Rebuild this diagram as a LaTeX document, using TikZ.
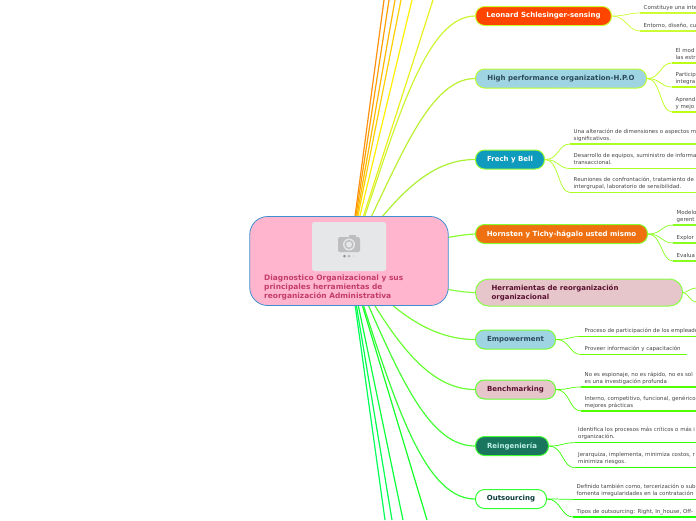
\documentclass[tikz,border=0pt]{standalone}
\usepackage{fontspec}
\usetikzlibrary{calc}
\setmainfont{DejaVu Sans}
\definecolor{rootfill}{HTML}{FFB5CE}
\definecolor{rootline}{HTML}{3F8FD0}
\definecolor{roottext}{HTML}{C43C6C}
\definecolor{lightblue}{HTML}{9FD4E3}
\definecolor{darktext}{HTML}{2A4A5A}
\definecolor{rosefill}{HTML}{E6C6CB}
\definecolor{rosetext}{HTML}{5A1030}
\definecolor{detailtext}{HTML}{444444}
\definecolor{cA}{RGB}{204,255,51}
\definecolor{cB}{RGB}{187,255,20}
\definecolor{cC}{RGB}{170,255,30}
\definecolor{cD}{RGB}{136,255,30}
\definecolor{cE}{RGB}{102,255,0}
\definecolor{cF}{RGB}{80,255,0}
\definecolor{cG}{RGB}{50,255,0}
\definecolor{cH}{RGB}{30,255,0}
\tikzset{
  topic/.style={draw, line width=1pt, rounded corners=9pt, minimum height=19pt, inner sep=0pt, anchor=west, font=\fontsize{7}{9}\selectfont\bfseries},
  detailnode/.style={anchor=base west, inner sep=0pt, align=left, text=detailtext, font=\fontsize{5.45}{7}\selectfont},
  branch/.style={line width=1.2pt},
  twig/.style={line width=.7pt},
  rule/.style={line width=1.2pt},
}
% #1 name, #2 parent, #3 colour, #4 bend x, #5 y of the rule, #6 end x, #7 text
\newcommand{\detail}[7]{%
  \coordinate (#1s) at (#4,#5);
  \coordinate (#1e) at (#6,#5);
  \draw[twig,#3] (#2.east) .. controls ($(#2.east)+(14,0)$) and ($(#1s)+(-12,0)$) .. (#1s);
  \draw[rule,#3] (#1s) -- (#1e);
  \node[detailnode] (#1) at ($(#1s)+(3.5,-4)$) {#7};
}
\begin{document}
\begin{tikzpicture}[x=1pt,y=-1pt]
\useasboundingbox (0,0) rectangle (696,520);
\coordinate (hub) at (349,261);
% straight branches leaving the page
\coordinate (t1) at (384,0); \coordinate (t2) at (389,0); \coordinate (t3) at (395,0);
\coordinate (t4) at (401,0); \coordinate (t5) at (412,0); \coordinate (t6) at (433,0);
\coordinate (b1) at (385,520); \coordinate (b2) at (392,520); \coordinate (b3) at (403,520); \coordinate (b4) at (427,520);
\draw[branch,color={rgb,255:red,255;green,144;blue,16}] (hub) -- (t1);
\draw[branch,color={rgb,255:red,255;green,160;blue,0}] (hub) -- (t2);
\draw[branch,color={rgb,255:red,255;green,184;blue,0}] (hub) -- (t3);
\draw[branch,color={rgb,255:red,255;green,208;blue,0}] (hub) -- (t4);
\draw[branch,color={rgb,255:red,255;green,240;blue,0}] (hub) -- (t5);
\draw[branch,color={rgb,255:red,232;green,240;blue,32}] (hub) -- (t6);
\draw[branch,color={rgb,255:red,0;green,255;blue,90}] (hub) -- (b1);
\draw[branch,color={rgb,255:red,0;green,255;blue,80}] (hub) -- (b2);
\draw[branch,color={rgb,255:red,10;green,255;blue,60}] (hub) -- (b3);
\draw[branch,color={rgb,255:red,20;green,255;blue,40}] (hub) -- (b4);
% topics
\node[topic,fill={rgb,255:red,255;green,69;blue,0},draw={rgb,255:red,204;green,255;blue,51},text=white,minimum width=136pt] (leo) at (475,16) {Leonard Schlesinger-sensing};
\node[topic,fill=lightblue,draw={rgb,255:red,187;green,255;blue,51},text=darktext,minimum width=171pt] (hpo) at (475,78.5) {High performance organization-H.P.O};
\node[topic,fill={rgb,255:red,14;green,155;blue,189},draw={rgb,255:red,153;green,255;blue,51},text=white,minimum width=69pt] (frech) at (475,159.5) {Frech y Bell};
\node[topic,fill={rgb,255:red,238;green,112;blue,16},draw={rgb,255:red,136;green,255;blue,51},text=white,minimum width=172pt] (horn) at (475,234) {Hornsten y Tichy-hágalo usted mismo};
\node[topic,fill=rosefill,draw={rgb,255:red,136;green,255;blue,68},text=rosetext,minimum width=207pt,minimum height=27pt,rounded corners=13pt,align=left,text width=175pt] (herr) at (475,292.5) {Herramientas de reorganización\\organizacional};
\node[topic,fill=lightblue,draw={rgb,255:red,119;green,255;blue,51},text=darktext,minimum width=80pt] (emp) at (475,339.5) {Empowerment};
\node[topic,fill=rosefill,draw={rgb,255:red,102;green,255;blue,51},text=rosetext,minimum width=80pt] (bench) at (475,389.5) {Benchmarking};
\node[topic,fill={rgb,255:red,25;green,117;blue,94},draw={rgb,255:red,68;green,255;blue,51},text={rgb,255:red,190;green,240;blue,230},minimum width=73pt] (rein) at (475,446) {Reingeniería};
\node[topic,fill=white,draw={rgb,255:red,51;green,255;blue,51},text={rgb,255:red,10;green,58;blue,58},minimum width=71pt] (out) at (475,499) {Outsourcing};
% curved branches
\draw[branch,color={rgb,255:red,204;green,245;blue,51}] (hub) .. controls (390,150) and (420,16) .. (leo.west);
\draw[branch,color={rgb,255:red,187;green,240;blue,51}] (hub) .. controls (395,175) and (425,78.5) .. (hpo.west);
\draw[branch,color={rgb,255:red,170;green,240;blue,51}] (hub) .. controls (395,195) and (430,159.5) .. (frech.west);
\draw[branch,color={rgb,255:red,136;green,255;blue,51}] (hub) .. controls (400,250) and (440,236) .. (horn.west);
\draw[branch,color={rgb,255:red,136;green,255;blue,68}] (hub) .. controls (400,275) and (440,292) .. (herr.west);
\draw[branch,color={rgb,255:red,119;green,255;blue,51}] (hub) .. controls (390,310) and (430,339.5) .. (emp.west);
\draw[branch,color={rgb,255:red,102;green,255;blue,51}] (hub) .. controls (395,345) and (430,389.5) .. (bench.west);
\draw[branch,color={rgb,255:red,68;green,255;blue,51}] (hub) .. controls (395,365) and (425,446) .. (rein.west);
\draw[branch,color={rgb,255:red,51;green,255;blue,51}] (hub) .. controls (390,385) and (420,499) .. (out.west);
% details
\detail{l1}{leo}{cA}{640}{13}{696}{Constituye una inte}
\detail{l2}{leo}{cA}{640}{31}{696}{Entorno, diseño, cul}
\detail{h1}{hpo}{cB}{672}{63}{696}{El mod\\las estr}
\detail{h2}{hpo}{cB}{672}{87}{696}{Particip\\integra}
\detail{h3}{hpo}{cB}{672}{112}{696}{Aprend\\y mejo}
\detail{f1}{frech}{cC}{570}{144}{696}{Una alteración de dimensiones o aspectos m\\significativos.}
\detail{f2}{frech}{cC}{570}{168.5}{696}{Desarrollo de equipos, suministro de informa\\transaccional.}
\detail{f3}{frech}{cC}{570}{192.5}{696}{Reuniones de confrontación, tratamiento de\\intergrupal, laboratorio de sensibilidad.}
\detail{o1}{horn}{cD}{673}{225}{696}{Modelo\\gerent}
\detail{o2}{horn}{cD}{673}{243}{696}{Explor}
\detail{o3}{horn}{cD}{673}{261}{696}{Evalua}
\coordinate (r1) at (696,288); \coordinate (r2) at (696,302);
\draw[twig,cD] (herr.east) .. controls (688,292.5) and (690,288) .. (r1);
\draw[twig,cD] (herr.east) .. controls (688,292.5) and (690,302) .. (r2);
\detail{e1}{emp}{cE}{581}{336.5}{696}{Proceso de participación de los empleado}
\detail{e2}{emp}{cE}{581}{354.5}{687}{Proveer información y capacitación}
\detail{b1n}{bench}{cF}{581}{387}{696}{No es espionaje, no es rápido, no es sol\\es una investigación profunda}
\detail{b2n}{bench}{cF}{581}{411}{696}{Interno, competitivo, funcional, genérico\\mejores prácticas}
\detail{g1}{rein}{cG}{574.5}{442.7}{696}{Identifica los procesos más críticos o más i\\organización.}
\detail{g2}{rein}{cG}{574.5}{467.7}{696}{Jerarquiza, implementa, minimiza costos, r\\minimiza riesgos.}
\detail{s1}{out}{cH}{573}{499.3}{696}{Definido también como, tercerización o sub\\fomenta irregularidades en la contratación}
\detail{s2}{out}{cH}{573}{517}{696}{Tipos de outsourcing: Right, In\_house, Off-}
% central topic
\node[draw=rootline,fill=rootfill,line width=.8pt,rounded corners=18pt,minimum width=198.5pt,minimum height=89pt,inner sep=0pt] (root) at (349,261) {};
\fill[rounded corners=2.5pt,fill={rgb,255:red,230;green,231;blue,233}] (312,222) rectangle (386,271);
\fill[rounded corners=1.5pt,fill={rgb,255:red,190;green,190;blue,192}] (338,237) rectangle (360,252);
\fill[fill={rgb,255:red,190;green,190;blue,192}] (349,237) rectangle (356,235.3);
\fill[fill={rgb,255:red,230;green,231;blue,233}] (349,244.5) circle (6);
\fill[fill={rgb,255:red,190;green,190;blue,192}] (349,244.5) circle (4.6);
\fill[fill={rgb,255:red,230;green,231;blue,233}] (349,244.5) circle (3);
\fill[fill={rgb,255:red,150;green,150;blue,152}] (344.5,256) circle (1.5);
\fill[fill={rgb,255:red,180;green,180;blue,182}] (349,256) circle (1.5);
\fill[fill={rgb,255:red,222;green,222;blue,224}] (353.5,256) circle (1.5);
\node[anchor=north west,inner sep=0pt,align=left,text=roottext,font=\fontsize{7.45}{9}\selectfont\bfseries] (title) at (264,275) {Diagnostico Organizacional y sus\\principales herramientas de\\reorganización Administrativa};
\end{tikzpicture}
\end{document}
